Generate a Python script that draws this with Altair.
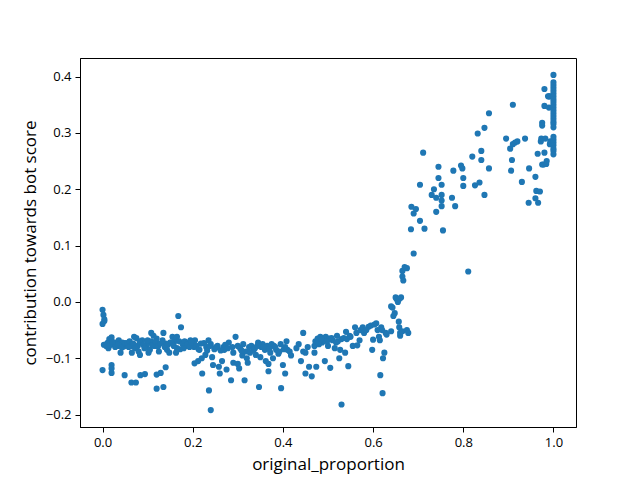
import altair as alt
import pandas as pd

# left cluster / band  x 0.00-0.06
x1 = [0.0, 0.002, 0.004, 0.0, 0.004, 0.0, 0.003, 0.008, 0.012, 0.015, 0.018, 0.013, 0.02, 0.02, 0.02, 0.02,
      0.025, 0.03, 0.033, 0.036, 0.04, 0.04, 0.044, 0.047, 0.049, 0.01, 0.016, 0.022, 0.028, 0.035, 0.043, 0.05]
y1 = [-0.014, -0.023, -0.031, -0.039, -0.034, -0.121, -0.076, -0.078, -0.072, -0.066, -0.069, -0.082, -0.063, -0.112, -0.118, -0.126,
      -0.075, -0.072, -0.078, -0.068, -0.074, -0.090, -0.072, -0.079, -0.130, -0.074, -0.077, -0.071, -0.080, -0.076, -0.081, -0.073]

# band x 0.055-0.175
x2 = [0.055, 0.06, 0.063, 0.065, 0.064, 0.074, 0.07, 0.075, 0.078, 0.08, 0.083, 0.085, 0.088, 0.084, 0.094,
      0.097, 0.1, 0.102, 0.105, 0.108, 0.108, 0.113, 0.115, 0.12, 0.12, 0.12, 0.125, 0.129, 0.135, 0.135, 0.14,
      0.143, 0.14, 0.148, 0.15, 0.155, 0.16, 0.165, 0.163, 0.168, 0.174, 0.165,
      0.058, 0.068, 0.072, 0.082, 0.09, 0.093, 0.1, 0.11, 0.118, 0.123, 0.128, 0.133, 0.138, 0.145, 0.152, 0.158, 0.17, 0.172]
y2 = [-0.073, -0.070, -0.078, -0.090, -0.143, -0.143, -0.062, -0.064, -0.078, -0.088, -0.094, -0.072, -0.068, -0.130, -0.128,
      -0.080, -0.073, -0.090, -0.085, -0.070, -0.055, -0.060, -0.078, -0.065, -0.129, -0.154, -0.088, -0.126, -0.151, -0.055, -0.074,
      -0.085, -0.116, -0.090, -0.072, -0.062, -0.070, -0.082, -0.090, -0.025, -0.045, -0.062,
      -0.080, -0.074, -0.082, -0.070, -0.076, -0.082, -0.068, -0.077, -0.071, -0.079, -0.074, -0.068, -0.080, -0.076, -0.072, -0.078, -0.070, -0.084]

# band x 0.175-0.295
x3 = [0.178, 0.182, 0.185, 0.19, 0.195, 0.2, 0.203, 0.205, 0.204, 0.212, 0.22, 0.221, 0.215, 0.225, 0.23, 0.235,
      0.236, 0.24, 0.228, 0.24, 0.243, 0.245, 0.25, 0.255, 0.258, 0.26, 0.265, 0.268, 0.27, 0.275, 0.28, 0.285,
      0.29, 0.29, 0.295, 0.18, 0.188, 0.193, 0.198, 0.208, 0.213, 0.218, 0.232, 0.238, 0.248, 0.252, 0.262, 0.272, 0.278, 0.288]
y3 = [-0.075, -0.070, -0.078, -0.072, -0.068, -0.075, -0.080, -0.068, -0.109, -0.105, -0.100, -0.127, -0.085, -0.073, -0.080, -0.068,
      -0.157, -0.192, -0.094, -0.075, -0.098, -0.112, -0.082, -0.078, -0.115, -0.127, -0.105, -0.080, -0.085, -0.120, -0.072, -0.139,
      -0.090, -0.108, -0.062, -0.082, -0.076, -0.080, -0.072, -0.078, -0.084, -0.074, -0.086, -0.078, -0.084, -0.080, -0.086, -0.076, -0.082, -0.080]

# band x 0.30-0.42
x4 = [0.3, 0.3, 0.303, 0.305, 0.31, 0.312, 0.315, 0.318, 0.32, 0.322, 0.325, 0.33, 0.335, 0.34, 0.345, 0.347,
      0.35, 0.352, 0.355, 0.36, 0.362, 0.365, 0.368, 0.368, 0.372, 0.375, 0.378, 0.38, 0.385, 0.39, 0.395, 0.396,
      0.4, 0.405, 0.405, 0.408, 0.41, 0.415, 0.418, 0.308, 0.327, 0.338, 0.343, 0.357, 0.37, 0.383, 0.392, 0.402]
y4 = [-0.078, -0.110, -0.118, -0.082, -0.095, -0.075, -0.139, -0.088, -0.100, -0.108, -0.080, -0.078, -0.085, -0.094, -0.072, -0.151,
      -0.098, -0.080, -0.075, -0.085, -0.105, -0.078, -0.110, -0.123, -0.090, -0.075, -0.100, -0.078, -0.085, -0.092, -0.075, -0.153,
      -0.112, -0.127, -0.080, -0.070, -0.085, -0.088, -0.095, -0.086, -0.090, -0.082, -0.078, -0.080, -0.084, -0.080, -0.088, -0.084]

# band x 0.43-0.66
x5 = [0.43, 0.435, 0.44, 0.445, 0.445, 0.45, 0.45, 0.458, 0.464, 0.47, 0.47, 0.472, 0.474, 0.477, 0.48,
      0.483, 0.487, 0.49, 0.493, 0.495, 0.5, 0.503, 0.505, 0.51, 0.515, 0.52, 0.522, 0.525, 0.527, 0.53, 0.53, 0.535, 0.538,
      0.54, 0.542, 0.545, 0.55, 0.555, 0.56, 0.563, 0.565, 0.57, 0.572, 0.577, 0.58, 0.59, 0.595,
      0.598, 0.6, 0.603, 0.607, 0.61, 0.613, 0.615, 0.618, 0.62, 0.616, 0.621, 0.622, 0.625, 0.628, 0.63, 0.64,
      0.455, 0.478, 0.485, 0.498, 0.508, 0.518, 0.548, 0.585]
y5 = [-0.082, -0.075, -0.105, -0.055, -0.088, -0.090, -0.127, -0.115, -0.132, -0.078, -0.090, -0.070, -0.115, -0.065, -0.075,
      -0.062, -0.072, -0.068, -0.105, -0.062, -0.078, -0.065, -0.117, -0.068, -0.082, -0.060, -0.070, -0.100, -0.085, -0.066, -0.182, -0.064, -0.090,
      -0.053, -0.066, -0.114, -0.062, -0.078, -0.045, -0.055, -0.077, -0.068, -0.050, -0.045, -0.055, -0.044, -0.042,
      -0.085, -0.067, -0.040, -0.038, -0.050, -0.062, -0.068, -0.045, -0.050, -0.130, -0.162, -0.100, -0.090, -0.055, -0.058, -0.052,
      -0.080, -0.072, -0.066, -0.070, -0.064, -0.072, -0.060, -0.050]

# rise x 0.64-0.72
x6 = [0.64, 0.643, 0.645, 0.648, 0.65, 0.652, 0.655, 0.657, 0.658, 0.66, 0.658, 0.662, 0.665, 0.665, 0.667, 0.67,
      0.66, 0.665, 0.675, 0.675, 0.678, 0.69, 0.684, 0.685, 0.69, 0.695, 0.704, 0.704, 0.711, 0.714]
y6 = [-0.008, -0.010, -0.025, -0.020, 0.008, 0.005, 0.000, -0.035, -0.045, -0.060, 0.005, 0.008, 0.055, 0.045, 0.038, 0.062,
      -0.055, -0.052, 0.060, -0.050, -0.055, 0.086, 0.129, 0.169, 0.157, 0.165, 0.144, 0.208, 0.265, 0.130]

# upper x 0.73-0.86
x7 = [0.73, 0.735, 0.74, 0.74, 0.745, 0.745, 0.752, 0.752, 0.752, 0.752, 0.755, 0.775, 0.778, 0.782, 0.795, 0.798,
      0.8, 0.8, 0.811, 0.82, 0.826, 0.832, 0.836, 0.84, 0.84, 0.847, 0.847, 0.857, 0.857]
y7 = [0.190, 0.200, 0.185, 0.160, 0.240, 0.220, 0.208, 0.190, 0.180, 0.170, 0.127, 0.185, 0.233, 0.170, 0.242, 0.237,
      0.220, 0.206, 0.054, 0.258, 0.207, 0.299, 0.212, 0.268, 0.252, 0.309, 0.190, 0.335, 0.237]

# upper x 0.89-0.995
x8 = [0.895, 0.904, 0.906, 0.908, 0.91, 0.91, 0.915, 0.92, 0.93, 0.937, 0.945, 0.946, 0.96, 0.96, 0.962, 0.965,
      0.966, 0.97, 0.972, 0.973, 0.975, 0.975, 0.975, 0.978, 0.98, 0.98, 0.98, 0.982, 0.984, 0.985, 0.988, 0.99,
      0.992, 0.99, 0.992, 0.993]
y8 = [0.290, 0.272, 0.233, 0.252, 0.350, 0.280, 0.283, 0.285, 0.213, 0.290, 0.176, 0.237, 0.222, 0.184, 0.197, 0.263,
      0.176, 0.196, 0.285, 0.290, 0.318, 0.313, 0.244, 0.244, 0.378, 0.348, 0.265, 0.290, 0.245, 0.250, 0.365, 0.365,
      0.365, 0.345, 0.280, 0.285]

# x = 1.0 column
x9 = [1.0] * 25
y9 = [0.403, 0.390, 0.385, 0.380, 0.375, 0.370, 0.365, 0.360, 0.355, 0.350, 0.345, 0.340, 0.335, 0.330, 0.325,
      0.320, 0.316, 0.310, 0.293, 0.288, 0.283, 0.278, 0.272, 0.268, 0.262]

xs = x1 + x2 + x3 + x4 + x5 + x6 + x7 + x8 + x9
ys = y1 + y2 + y3 + y4 + y5 + y6 + y7 + y8 + y9
df = pd.DataFrame({"original_proportion": xs, "contribution": ys})

font = "Open Sans"
chart = alt.Chart(df).mark_circle(size=38, opacity=1, color="#1f77b4").encode(
    x=alt.X("original_proportion:Q", title="original_proportion",
            scale=alt.Scale(domain=[-0.05, 1.05], nice=False, zero=False),
            axis=alt.Axis(values=[0.0, 0.2, 0.4, 0.6, 0.8, 1.0], format=".1f", grid=False,
                          domainColor="black", tickColor="black", tickSize=5, labelPadding=4,
                          labelFont=font, labelFontSize=13, labelColor="black",
                          titleFont=font, titleFontSize=17, titleFontWeight="normal",
                          titleColor="black", titlePadding=7)),
    y=alt.Y("contribution:Q", title="contribution towards bot score",
            scale=alt.Scale(domain=[-0.222, 0.433], nice=False, zero=False),
            axis=alt.Axis(values=[-0.2, -0.1, 0.0, 0.1, 0.2, 0.3, 0.4], format=".1f", grid=False,
                          domainColor="black", tickColor="black", tickSize=5, labelPadding=4,
                          labelFont=font, labelFontSize=13, labelColor="black",
                          titleFont=font, titleFontSize=17, titleFontWeight="normal",
                          titleColor="black", titlePadding=6)),
).properties(
    width=496, height=369,
    autosize=alt.AutoSizeParams(type="none"),
    padding={"left": 72, "top": 50, "right": 56, "bottom": 53},
).configure(background="white").configure_view(stroke="black", strokeWidth=1)

chart.save("out.html", embed_options={"renderer": "svg", "actions": False})
